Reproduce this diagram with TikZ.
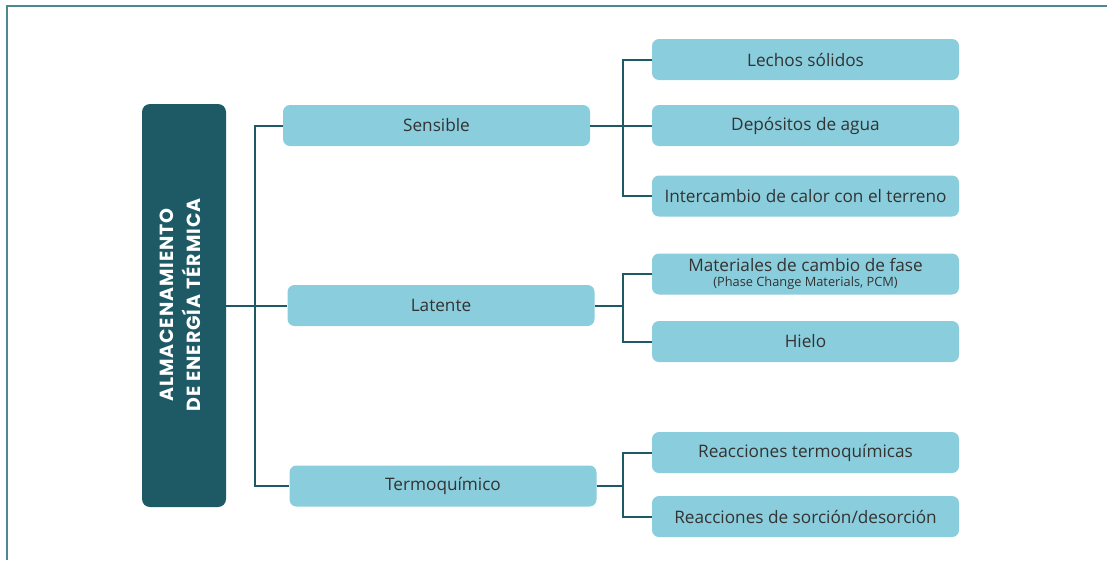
\documentclass[tikz,border=0pt]{standalone}
\usepackage{fontspec}
\setmainfont{Open Sans}
\newfontfamily\titlefont[LetterSpace=5]{Poppins}
\definecolor{darkteal}{HTML}{1D5A66}
\definecolor{lightbox}{HTML}{8ACDDC}
\definecolor{txt}{HTML}{333333}
\definecolor{frame}{HTML}{4F8790}
\begin{document}
\begin{tikzpicture}[x=1pt,y=-1pt,
  box/.style={fill=lightbox, rounded corners=7pt, minimum width=307pt, minimum height=41pt, inner sep=0pt, text=txt, font=\fontsize{17.2}{19}\selectfont, align=center},
  conn/.style={draw=darkteal, line width=2pt}]
\useasboundingbox (0,0) rectangle (1107,560);
\draw[frame, line width=1.3pt] (7,560) -- (7,6) -- (1107,6);
\node[fill=darkteal, rounded corners=8pt, minimum width=84pt, minimum height=403pt, inner sep=0pt] (main) at (184,305.5) {};
\node[rotate=90, text=white, font=\titlefont\bfseries\fontsize{19}{26.7}\selectfont, align=center] (title) at (180.5,305) {ALMACENAMIENTO\\DE ENERGÍA TÉRMICA};
\node[box] (sens) at (436.5,125.5) {Sensible};
\node[box] (lat) at (441,305.5) {Latente};
\node[box] (termo) at (443,486) {Termoquímico};
\node[box] (lech) at (805.5,59.5) {Lechos sólidos};
\node[box] (dep) at (805.5,125.5) {Depósitos de agua};
\node[box] (inter) at (805.5,196) {Intercambio de calor con el terreno};
\node[box] (mat) at (805.5,274) {Materiales de cambio de fase\\[-4pt]{\fontsize{12.8}{14}\selectfont (Phase Change Materials, PCM)}};
\node[box] (hielo) at (805.5,341.5) {Hielo};
\node[box] (reac) at (805.5,452.5) {Reacciones termoquímicas};
\node[box] (sorc) at (805.5,516.5) {Reacciones de sorción/desorción};
\coordinate (t0) at (255,305.5);
\coordinate (s1) at (623,125.5);
\coordinate (l1) at (623,305.5);
\coordinate (q1) at (623,486);
\draw[conn] (main.east) -- (lat.west);
\draw[conn] (sens.west) -| (t0) |- (termo.west);
\draw[conn] (sens.east) -- (dep.west);
\draw[conn] (lech.west) -| (s1) |- (inter.west);
\draw[conn] (lat.east) -- (l1);
\draw[conn] (mat.west) -| (l1) |- (hielo.west);
\draw[conn] (termo.east) -- (q1);
\draw[conn] (reac.west) -| (q1) |- (sorc.west);
\end{tikzpicture}
\end{document}
